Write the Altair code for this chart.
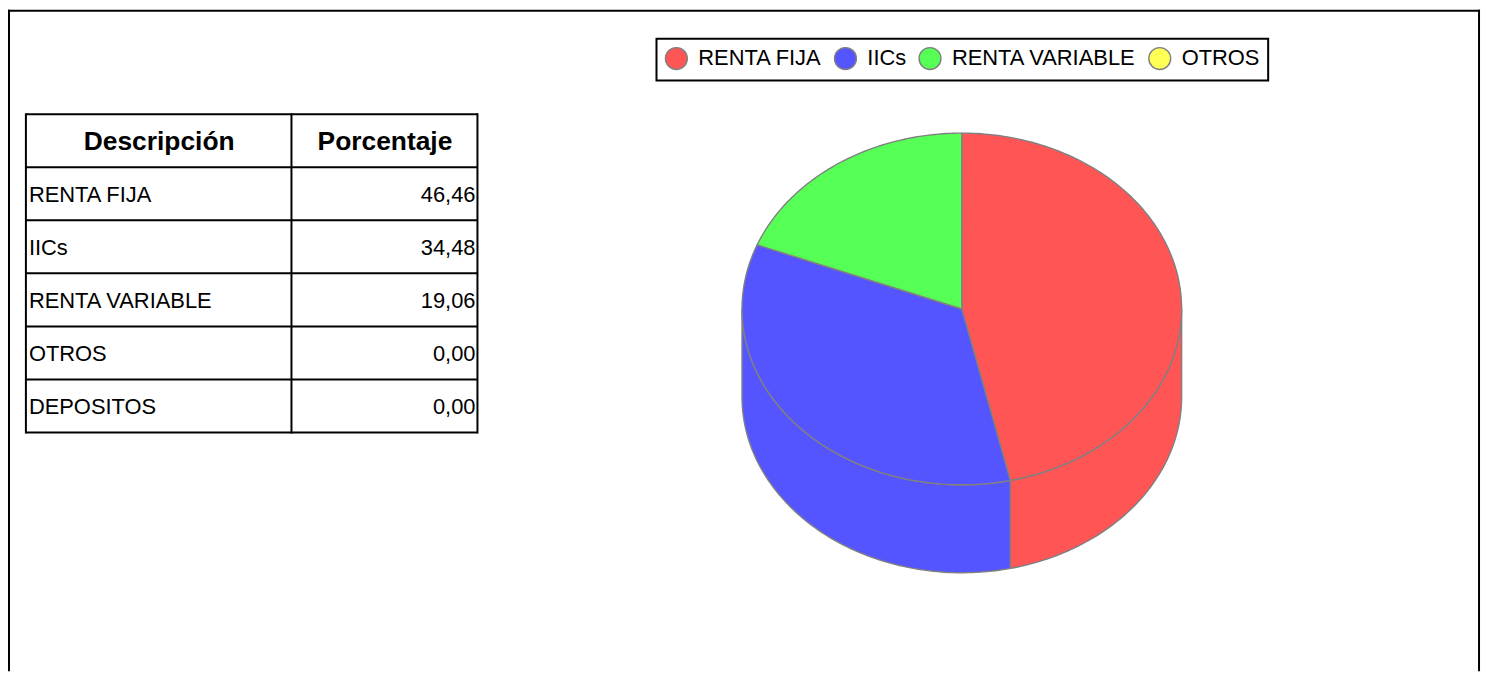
import math
import altair as alt
import pandas as pd

categories = ["RENTA FIJA", "IICs", "RENTA VARIABLE", "OTROS", "DEPOSITOS"]
percentages = [46.46, 34.48, 19.06, 0.00, 0.00]
labels = ["46,46", "34,48", "19,06", "0,00", "0,00"]
headers = ["Descripción", "Porcentaje"]
legend_items = ["RENTA FIJA", "IICs", "RENTA VARIABLE", "OTROS"]
colors = ["#ff5555", "#5555ff", "#55ff55", "#ffff55"]

FONT = "Liberation Sans"
DEPTH = 0.5  # cylinder height relative to the ellipse's vertical radius


def ellipse_pt(deg, drop=0.0):
    r = math.radians(deg)
    return math.sin(r), -math.cos(r) + drop


def pie_rows():
    rows, start, sid = [], 0.0, 0
    total = sum(percentages)
    spans = []
    for name, v in zip(categories, percentages):
        if v > 0:
            end = start + v / total * 360
            spans.append((name, start, end))
            start = end
    # front wall first
    for name, a0, a1 in spans:
        lo, hi = max(a0, 90), min(a1, 270)
        if hi <= lo:
            continue
        n = max(2, int(hi - lo))
        angs = [lo + (hi - lo) * i / n for i in range(n + 1)]
        pts = [ellipse_pt(a) for a in angs] + [ellipse_pt(a, DEPTH * 1) for a in reversed(angs)]
        pts.append(pts[0])
        for i, (x, y) in enumerate(pts):
            rows.append(dict(id=sid, k=i, x=x, y=y, name=name))
        sid += 1
    # top face
    for name, a0, a1 in spans:
        n = max(2, int(a1 - a0))
        pts = [(0.0, 0.0)] + [ellipse_pt(a0 + (a1 - a0) * i / n) for i in range(n + 1)] + [(0.0, 0.0)]
        for i, (x, y) in enumerate(pts):
            rows.append(dict(id=sid, k=i, x=x, y=y, name=name))
        sid += 1
    return pd.DataFrame(rows)


blank = alt.Data(values=[{"a": 0}])

pie = (
    alt.Chart(pie_rows())
    .mark_line(stroke="#808080", strokeWidth=1.4, strokeJoin="round", interpolate="linear", clip=False)
    .encode(
        x=alt.X("x:Q", axis=None, scale=alt.Scale(domain=[-1, 1], range=[738, 1180], nice=False, zero=False)),
        y=alt.Y("y:Q", axis=None, scale=alt.Scale(domain=[-1, 1 + DEPTH], range=[124, 566], nice=False, zero=False)),
        detail="id:N",
        order="k:Q",
        fill=alt.Fill(
            "name:N",
            scale=alt.Scale(domain=legend_items, range=colors),
            legend=alt.Legend(
                title=None,
                orient="none",
                legendX=652,
                legendY=29,
                direction="horizontal",
                columns=4,
                symbolType="circle",
                symbolSize=484,
                symbolStrokeColor="#808080",
                symbolStrokeWidth=1.4,
                labelFontSize=22,
                labelFont=FONT,
                labelColor="black",
                labelOffset=10,
                labelLimit=400,
                columnPadding=9,
                padding=8,
                strokeColor="black",
                gridAlign="none",
            ),
        ),
    )
)

y_rows = alt.Scale(domain=[0, 6], range=[105, 425], nice=False, zero=False)

edges = pd.DataFrame({"edge": list(range(7))})
h_rules = (
    alt.Chart(edges)
    .mark_rule(color="black", strokeWidth=2)
    .encode(x=alt.value(18), x2=alt.value(472), y=alt.Y("edge:Q", axis=None, scale=y_rows))
)

v_rules = [
    alt.Chart(blank)
    .mark_rule(color="black", strokeWidth=2)
    .encode(x=alt.value(px), y=alt.value(104), y2=alt.value(426))
    for px in (18, 285, 472)
]

head_df = pd.DataFrame({"t": headers, "p": [0.5, 0.5], "c": [0, 1]})
head_text = [
    alt.Chart(head_df[head_df.c == c])
    .mark_text(font=FONT, fontSize=26.5, fontWeight="bold", align="center", baseline="middle", dy=1, color="black")
    .encode(x=alt.value(px), y=alt.Y("p:Q", axis=None, scale=y_rows), text="t:N")
    for c, px in ((0, 152), (1, 379))
]

body = pd.DataFrame({"name": categories, "label": labels, "row": [i + 1.5 for i in range(len(categories))]})
left_text = (
    alt.Chart(body)
    .mark_text(font=FONT, fontSize=22, align="left", baseline="middle", dy=1, color="black")
    .encode(x=alt.value(21), y=alt.Y("row:Q", axis=None, scale=y_rows), text="name:N")
)
right_text = (
    alt.Chart(body)
    .mark_text(font=FONT, fontSize=22, align="right", baseline="middle", dy=1, color="black")
    .encode(x=alt.value(470), y=alt.Y("row:Q", axis=None, scale=y_rows), text="label:N")
)

frame = [
    alt.Chart(blank).mark_rule(color="black", strokeWidth=2).encode(x=alt.value(1), y=alt.value(0), y2=alt.value(665)),
    alt.Chart(blank).mark_rule(color="black", strokeWidth=2).encode(x=alt.value(1479), y=alt.value(0), y2=alt.value(665)),
    alt.Chart(blank).mark_rule(color="black", strokeWidth=2).encode(x=alt.value(0), x2=alt.value(1480), y=alt.value(1)),
]

chart = (
    alt.layer(pie, h_rules, *v_rules, *head_text, left_text, right_text, *frame)
    .resolve_scale(x="independent", y="independent")
    .properties(width=1484, height=665, padding=0, autosize=alt.AutoSizeParams(type="none"))
    .configure_view(stroke=None)
    .configure_legend(strokeWidth=2)
)

chart.save("out.html", embed_options={"renderer": "svg", "actions": False})
